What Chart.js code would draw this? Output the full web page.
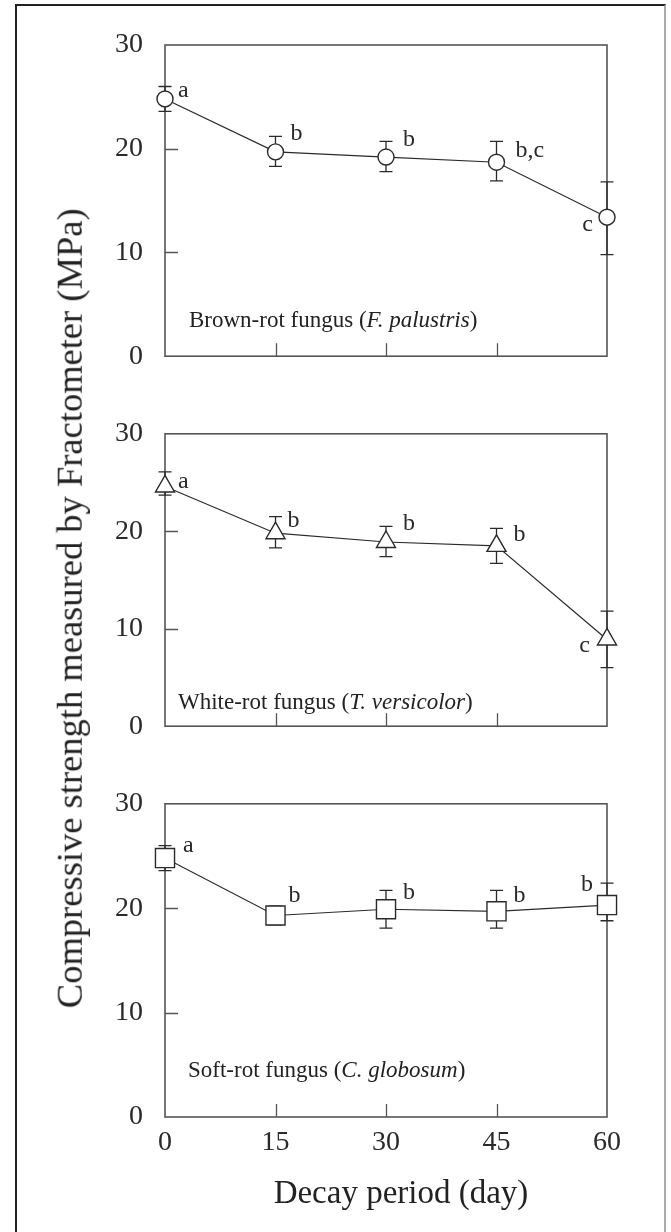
<!DOCTYPE html>
<html><head><meta charset="utf-8">
<script src="https://cdn.jsdelivr.net/npm/chart.js@4"></script>
<style>
html,body{margin:0;padding:0;background:#fff;}
body{width:671px;height:1232px;position:relative;overflow:hidden;font-family:"Liberation Serif","Times New Roman",serif;color:#222;}
#frame{position:absolute;left:15px;top:4px;width:651px;height:1260px;border-left:2px solid #222;border-top:2px solid #222;border-right:2px solid #aaa;box-sizing:border-box;}
canvas{position:absolute;left:0;}
.note{position:absolute;font-size:23px;white-space:nowrap;line-height:1;}
#ytitle{position:absolute;left:-380px;top:590px;width:900px;text-align:center;font-size:36.5px;line-height:1;white-space:nowrap;transform:rotate(-90deg);transform-origin:50% 50%;}
#xtitle{position:absolute;left:201px;top:1176px;width:400px;text-align:center;font-size:33px;line-height:1;white-space:nowrap;}
</style></head>
<body>
<div id="frame"></div>
<canvas id="c1" width="671" height="395" style="top:0px"></canvas>
<canvas id="c2" width="671" height="370" style="top:395px"></canvas>
<canvas id="c3" width="671" height="467" style="top:765px"></canvas>
<div class="note" style="left:189px;top:308px">Brown-rot fungus (<i>F. palustris</i>)</div>
<div class="note" style="left:178px;top:690px">White-rot fungus (<i>T. versicolor</i>)</div>
<div class="note" style="left:188px;top:1058px">Soft-rot fungus (<i>C. globosum</i>)</div>
<div id="ytitle">Compressive strength measured by Fractometer (MPa)</div>
<div id="xtitle">Decay period (day)</div>
<script>
// ---- data ----
const days = [0, 15, 30, 45, 60];
const xTicks = [0, 15, 30, 45, 60];
const yTicks = [0, 10, 20, 30];

const brownMean    = [24.8, 19.7, 19.2, 18.7, 13.4];
const brownErrHigh = [26.0, 21.2, 20.7, 20.7, 16.8];
const brownErrLow  = [23.6, 18.3, 17.8, 16.9, 9.8];
const brownLetters = ['a', 'b', 'b', 'b,c', 'c'];

const whiteMean    = [24.6, 19.8, 18.9, 18.5, 8.9];
const whiteErrHigh = [26.1, 21.5, 20.5, 20.3, 11.8];
const whiteErrLow  = [23.7, 18.3, 17.4, 16.7, 6.0];
const whiteLetters = ['a', 'b', 'b', 'b', 'c'];

const softMean    = [24.8, 19.3, 19.9, 19.7, 20.3];
const softErrHigh = [26.0, 20.2, 21.7, 21.7, 22.4];
const softErrLow  = [23.6, 18.4, 18.1, 18.1, 18.8];
const softLetters = ['a', 'b', 'b', 'b', 'b'];

// ---- styles (letter offsets in px) ----
const brownLetterPos = [[13,-8,'left'],[15,-18,'left'],[17,-17,'left'],[19,-12,'left'],[-14,8,'right']];
const whiteLetterPos = [[13,-5,'left'],[12,-13,'left'],[17,-18,'left'],[17,-11,'left'],[-17,6,'right']];
const softLetterPos  = [[18,-12,'left'],[13,-20,'left'],[17,-17,'left'],[17,-16,'left'],[-14,-20,'right']];

const SERIF = '"Liberation Serif","Times New Roman",serif';
const INK = '#2a2a2a';

const panelDecor = {
  id: 'panelDecor',
  beforeDatasetsDraw(chart, args, opts) {
    const {ctx, chartArea: a, scales: {x, y}} = chart;
    ctx.save();
    ctx.strokeStyle = '#555';
    ctx.lineWidth = 1.6;
    ctx.strokeRect(a.left, a.top, a.right - a.left, a.bottom - a.top);
    ctx.lineWidth = 1.3;
    ctx.beginPath();
    yTicks.forEach(v => {
      if (v > y.min && v < y.max) {
        const py = Math.round(y.getPixelForValue(v)) + 0.5;
        ctx.moveTo(a.left, py); ctx.lineTo(a.left + 13, py);
      }
    });
    xTicks.forEach(v => {
      if (v > x.min && v < x.max) {
        const px = Math.round(x.getPixelForValue(v)) + 0.5;
        ctx.moveTo(px, a.bottom); ctx.lineTo(px, a.bottom - 13);
      }
    });
    ctx.stroke();
    // error bars
    ctx.strokeStyle = INK;
    ctx.lineWidth = 1.3;
    ctx.beginPath();
    opts.hi.forEach((h, i) => {
      const px = x.getPixelForValue(days[i]);
      const ph = y.getPixelForValue(h), pl = y.getPixelForValue(opts.lo[i]);
      ctx.moveTo(px, ph); ctx.lineTo(px, pl);
      ctx.moveTo(px - 6.5, ph); ctx.lineTo(px + 6.5, ph);
      ctx.moveTo(px - 6.5, pl); ctx.lineTo(px + 6.5, pl);
    });
    ctx.stroke();
    ctx.restore();
  },
  afterDatasetsDraw(chart, args, opts) {
    const {ctx, scales: {x, y}} = chart;
    ctx.save();
    ctx.fillStyle = INK;
    ctx.font = '24px ' + SERIF;
    ctx.textBaseline = 'middle';
    opts.letters.forEach((t, i) => {
      const [dx, dy, al] = opts.pos[i];
      ctx.textAlign = al;
      ctx.fillText(t, x.getPixelForValue(days[i]) + dx, y.getPixelForValue(opts.mean[i]) + dy);
    });
    ctx.restore();
  }
};

function makePanel(id, mean, hi, lo, letters, pos, style, radius, padTop, xHeight, showX) {
  new Chart(document.getElementById(id), {
    type: 'line',
    data: {
      datasets: [{
        data: days.map((d, i) => ({x: d, y: mean[i]})),
        borderColor: INK,
        borderWidth: 1.2,
        pointStyle: style,
        pointRadius: radius,
        pointBackgroundColor: '#fff',
        pointBorderColor: INK,
        pointBorderWidth: 1.4,
        tension: 0,
        clip: false
      }]
    },
    options: {
      responsive: false,
      animation: false,
      devicePixelRatio: 1,
      layout: {padding: {top: padTop, right: 64, left: 0, bottom: 0}},
      plugins: {
        legend: {display: false},
        tooltip: {enabled: false},
        panelDecor: {hi: hi, lo: lo, mean: mean, letters: letters, pos: pos}
      },
      scales: {
        x: {
          type: 'linear', min: 0, max: 60,
          afterBuildTicks: s => { s.ticks = xTicks.map(v => ({value: v})); },
          afterFit: s => { s.height = xHeight; },
          grid: {display: false, drawTicks: false},
          border: {display: false},
          ticks: {display: showX, padding: 9, color: INK, font: {family: SERIF, size: 28}}
        },
        y: {
          min: 0, max: 30,
          afterBuildTicks: s => { s.ticks = yTicks.map(v => ({value: v})); },
          afterFit: s => { s.width = 165; },
          grid: {display: false, drawTicks: false},
          border: {display: false},
          ticks: {padding: 22, color: INK, font: {family: SERIF, size: 28}}
        }
      }
    },
    plugins: [panelDecor]
  });
}

makePanel('c1', brownMean, brownErrHigh, brownErrLow, brownLetters, brownLetterPos, 'circle', 8, 45, 33, false);
makePanel('c2', whiteMean, whiteErrHigh, whiteErrLow, whiteLetters, whiteLetterPos, 'triangle', 11, 28, 25, false);
makePanel('c3', softMean, softErrHigh, softErrLow, softLetters, softLetterPos, 'rect', 13.5, 36, 115, true);
</script>
</body></html>
